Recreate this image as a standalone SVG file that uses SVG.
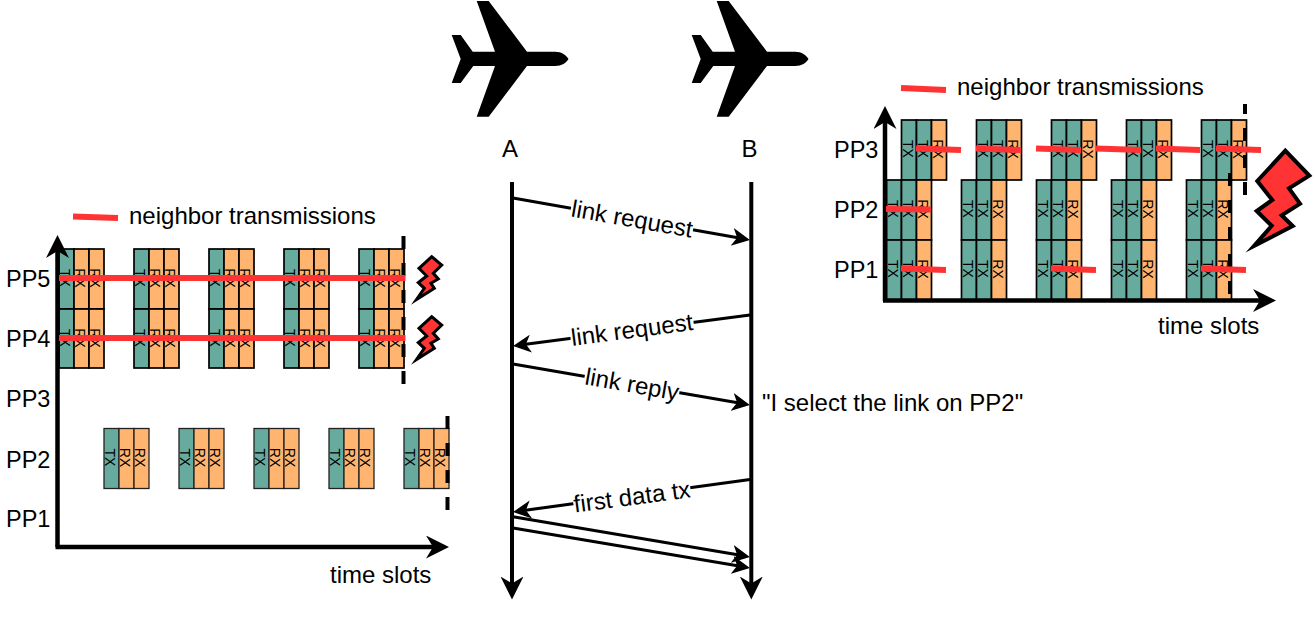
<svg xmlns="http://www.w3.org/2000/svg" width="1315" height="621" viewBox="0 0 1315 621">
<style>
text{font-family:"Liberation Sans",Arial,sans-serif;font-size:24px;fill:#000}
.pp{font-size:23.5px}
.c{font-size:14px;text-anchor:middle}
.m{text-anchor:middle}
.tx{fill:#67ab9f;stroke:#000;stroke-width:1.7}
.rx{fill:#ffb570;stroke:#000;stroke-width:1.7}
.thin rect{stroke:#222;stroke-width:1.300}
.ax{fill:none;stroke:#000;stroke-width:4.5}
.life{fill:none;stroke:#000;stroke-width:4}
.msg{fill:none;stroke:#000;stroke-width:3}
.dash{fill:none;stroke:#000;stroke-width:4;stroke-dasharray:13 14}
.red{fill:none;stroke:#ff3333;stroke-width:6}
.bolt{fill:#ff3333;stroke:#000;stroke-linejoin:miter;stroke-miterlimit:12}
</style>
<defs>
<marker id="big" markerUnits="userSpaceOnUse" markerWidth="24" markerHeight="24" refX="13" refY="11.5" orient="auto"><path d="M23 11.5L0 0L7 11.5L0 23Z" fill="#000"/></marker>
<marker id="small" markerUnits="userSpaceOnUse" markerWidth="19" markerHeight="19" refX="13" refY="9" orient="auto"><path d="M18 9L0 0L5 9L0 18Z" fill="#000"/></marker>
<path id="plane" d="M476.700 1H488.700L527 51.700H555C562 51.700 566 55 568.500 59C566 63 562 66 555 66H527L488.700 116.700H476.700L495 66H473.300L460.700 83H451.700L460.700 59L451.700 35H460.700L472.700 51.700H495Z" fill="#000"/>
</defs>

<g id="plane-a"><use href="#plane"/><text class="m" x="510" y="157">A</text></g>
<g id="plane-b"><use href="#plane" transform="translate(240 0)"/><text class="m" x="749.500" y="157">B</text></g>

<g id="left-labels">
<text class="pp" x="6" y="287">PP5</text><text class="pp" x="6" y="347">PP4</text><text class="pp" x="6" y="407">PP3</text><text class="pp" x="6" y="468">PP2</text><text class="pp" x="6" y="527">PP1</text>
<text x="330" y="583">time slots</text>
<text x="129" y="224">neighbor transmissions</text>
</g>
<g id="right-labels">
<text class="pp" x="834" y="158">PP3</text><text class="pp" x="834" y="218">PP2</text><text class="pp" x="834" y="278">PP1</text>
<text x="1158" y="334">time slots</text>
<text x="957" y="95">neighbor transmissions</text>
</g>
<g id="selection-note"><text x="762" y="411">"I select the link on PP2"</text></g>

<g id="pp5-1" transform="translate(59 249)"><rect class="tx" width="15" height="60"/><rect class="rx" x="15" width="15" height="60"/><rect class="rx" x="30" width="15" height="60"/><text class="c" transform="translate(1 29) rotate(90)">TX</text><text class="c" transform="translate(16 29) rotate(90)">RX</text><text class="c" transform="translate(31 29) rotate(90)">RX</text></g>
<g id="pp5-2" transform="translate(134 249)"><rect class="tx" width="15" height="60"/><rect class="rx" x="15" width="15" height="60"/><rect class="rx" x="30" width="15" height="60"/><text class="c" transform="translate(1 29) rotate(90)">TX</text><text class="c" transform="translate(16 29) rotate(90)">RX</text><text class="c" transform="translate(31 29) rotate(90)">RX</text></g>
<g id="pp5-3" transform="translate(209 249)"><rect class="tx" width="15" height="60"/><rect class="rx" x="15" width="15" height="60"/><rect class="rx" x="30" width="15" height="60"/><text class="c" transform="translate(1 29) rotate(90)">TX</text><text class="c" transform="translate(16 29) rotate(90)">RX</text><text class="c" transform="translate(31 29) rotate(90)">RX</text></g>
<g id="pp5-4" transform="translate(284 249)"><rect class="tx" width="15" height="60"/><rect class="rx" x="15" width="15" height="60"/><rect class="rx" x="30" width="15" height="60"/><text class="c" transform="translate(1 29) rotate(90)">TX</text><text class="c" transform="translate(16 29) rotate(90)">RX</text><text class="c" transform="translate(31 29) rotate(90)">RX</text></g>
<g id="pp5-5" transform="translate(359 249)"><rect class="tx" width="15" height="60"/><rect class="rx" x="15" width="15" height="60"/><rect class="rx" x="30" width="15" height="60"/><text class="c" transform="translate(1 29) rotate(90)">TX</text><text class="c" transform="translate(16 29) rotate(90)">RX</text><text class="c" transform="translate(31 29) rotate(90)">RX</text></g>

<g id="pp4-1" transform="translate(59 309)"><rect class="tx" width="15" height="59"/><rect class="rx" x="15" width="15" height="59"/><rect class="rx" x="30" width="15" height="59"/><text class="c" transform="translate(1 29) rotate(90)">TX</text><text class="c" transform="translate(16 29) rotate(90)">RX</text><text class="c" transform="translate(31 29) rotate(90)">RX</text></g>
<g id="pp4-2" transform="translate(134 309)"><rect class="tx" width="15" height="59"/><rect class="rx" x="15" width="15" height="59"/><rect class="rx" x="30" width="15" height="59"/><text class="c" transform="translate(1 29) rotate(90)">TX</text><text class="c" transform="translate(16 29) rotate(90)">RX</text><text class="c" transform="translate(31 29) rotate(90)">RX</text></g>
<g id="pp4-3" transform="translate(209 309)"><rect class="tx" width="15" height="59"/><rect class="rx" x="15" width="15" height="59"/><rect class="rx" x="30" width="15" height="59"/><text class="c" transform="translate(1 29) rotate(90)">TX</text><text class="c" transform="translate(16 29) rotate(90)">RX</text><text class="c" transform="translate(31 29) rotate(90)">RX</text></g>
<g id="pp4-4" transform="translate(284 309)"><rect class="tx" width="15" height="59"/><rect class="rx" x="15" width="15" height="59"/><rect class="rx" x="30" width="15" height="59"/><text class="c" transform="translate(1 29) rotate(90)">TX</text><text class="c" transform="translate(16 29) rotate(90)">RX</text><text class="c" transform="translate(31 29) rotate(90)">RX</text></g>
<g id="pp4-5" transform="translate(359 309)"><rect class="tx" width="15" height="59"/><rect class="rx" x="15" width="15" height="59"/><rect class="rx" x="30" width="15" height="59"/><text class="c" transform="translate(1 29) rotate(90)">TX</text><text class="c" transform="translate(16 29) rotate(90)">RX</text><text class="c" transform="translate(31 29) rotate(90)">RX</text></g>

<g id="pp2-1" class="thin" transform="translate(104 428.500)"><rect class="tx" width="15" height="60"/><rect class="rx" x="15" width="15" height="60"/><rect class="rx" x="30" width="15" height="60"/><text class="c" transform="translate(1 29) rotate(90)">TX</text><text class="c" transform="translate(16 29) rotate(90)">RX</text><text class="c" transform="translate(31 29) rotate(90)">RX</text></g>
<g id="pp2-2" class="thin" transform="translate(179 428.500)"><rect class="tx" width="15" height="60"/><rect class="rx" x="15" width="15" height="60"/><rect class="rx" x="30" width="15" height="60"/><text class="c" transform="translate(1 29) rotate(90)">TX</text><text class="c" transform="translate(16 29) rotate(90)">RX</text><text class="c" transform="translate(31 29) rotate(90)">RX</text></g>
<g id="pp2-3" class="thin" transform="translate(254 428.500)"><rect class="tx" width="15" height="60"/><rect class="rx" x="15" width="15" height="60"/><rect class="rx" x="30" width="15" height="60"/><text class="c" transform="translate(1 29) rotate(90)">TX</text><text class="c" transform="translate(16 29) rotate(90)">RX</text><text class="c" transform="translate(31 29) rotate(90)">RX</text></g>
<g id="pp2-4" class="thin" transform="translate(329 428.500)"><rect class="tx" width="15" height="60"/><rect class="rx" x="15" width="15" height="60"/><rect class="rx" x="30" width="15" height="60"/><text class="c" transform="translate(1 29) rotate(90)">TX</text><text class="c" transform="translate(16 29) rotate(90)">RX</text><text class="c" transform="translate(31 29) rotate(90)">RX</text></g>
<g id="pp2-5" class="thin" transform="translate(404 428.500)"><rect class="tx" width="15" height="60"/><rect class="rx" x="15" width="15" height="60"/><rect class="rx" x="30" width="15" height="60"/><text class="c" transform="translate(1 29) rotate(90)">TX</text><text class="c" transform="translate(16 29) rotate(90)">RX</text><text class="c" transform="translate(31 29) rotate(90)">RX</text></g>

<g id="r-pp3-1" transform="translate(901.500 120)"><rect class="tx" width="15" height="60"/><rect class="tx" x="15" width="15" height="60"/><rect class="rx" x="30" width="15" height="60"/><text class="c" transform="translate(1 29) rotate(90)">TX</text><text class="c" transform="translate(16 29) rotate(90)">TX</text><text class="c" transform="translate(31 29) rotate(90)">RX</text></g>
<g id="r-pp3-2" transform="translate(976.500 120)"><rect class="tx" width="15" height="60"/><rect class="tx" x="15" width="15" height="60"/><rect class="rx" x="30" width="15" height="60"/><text class="c" transform="translate(1 29) rotate(90)">TX</text><text class="c" transform="translate(16 29) rotate(90)">TX</text><text class="c" transform="translate(31 29) rotate(90)">RX</text></g>
<g id="r-pp3-3" transform="translate(1051.500 120)"><rect class="tx" width="15" height="60"/><rect class="tx" x="15" width="15" height="60"/><rect class="rx" x="30" width="15" height="60"/><text class="c" transform="translate(1 29) rotate(90)">TX</text><text class="c" transform="translate(16 29) rotate(90)">TX</text><text class="c" transform="translate(31 29) rotate(90)">RX</text></g>
<g id="r-pp3-4" transform="translate(1126.500 120)"><rect class="tx" width="15" height="60"/><rect class="tx" x="15" width="15" height="60"/><rect class="rx" x="30" width="15" height="60"/><text class="c" transform="translate(1 29) rotate(90)">TX</text><text class="c" transform="translate(16 29) rotate(90)">TX</text><text class="c" transform="translate(31 29) rotate(90)">RX</text></g>
<g id="r-pp3-5" transform="translate(1201.500 120)"><rect class="tx" width="15" height="60"/><rect class="tx" x="15" width="15" height="60"/><rect class="rx" x="30" width="15" height="60"/><text class="c" transform="translate(1 29) rotate(90)">TX</text><text class="c" transform="translate(16 29) rotate(90)">TX</text><text class="c" transform="translate(31 29) rotate(90)">RX</text></g>

<g id="r-pp2-1" transform="translate(886.500 180)"><rect class="tx" width="15" height="60"/><rect class="tx" x="15" width="15" height="60"/><rect class="rx" x="30" width="15" height="60"/><text class="c" transform="translate(1 29) rotate(90)">TX</text><text class="c" transform="translate(16 29) rotate(90)">TX</text><text class="c" transform="translate(31 29) rotate(90)">RX</text></g>
<g id="r-pp2-2" transform="translate(961.500 180)"><rect class="tx" width="15" height="60"/><rect class="tx" x="15" width="15" height="60"/><rect class="rx" x="30" width="15" height="60"/><text class="c" transform="translate(1 29) rotate(90)">TX</text><text class="c" transform="translate(16 29) rotate(90)">TX</text><text class="c" transform="translate(31 29) rotate(90)">RX</text></g>
<g id="r-pp2-3" transform="translate(1036.500 180)"><rect class="tx" width="15" height="60"/><rect class="tx" x="15" width="15" height="60"/><rect class="rx" x="30" width="15" height="60"/><text class="c" transform="translate(1 29) rotate(90)">TX</text><text class="c" transform="translate(16 29) rotate(90)">TX</text><text class="c" transform="translate(31 29) rotate(90)">RX</text></g>
<g id="r-pp2-4" transform="translate(1111.500 180)"><rect class="tx" width="15" height="60"/><rect class="tx" x="15" width="15" height="60"/><rect class="rx" x="30" width="15" height="60"/><text class="c" transform="translate(1 29) rotate(90)">TX</text><text class="c" transform="translate(16 29) rotate(90)">TX</text><text class="c" transform="translate(31 29) rotate(90)">RX</text></g>
<g id="r-pp2-5" transform="translate(1186.500 180)"><rect class="tx" width="15" height="60"/><rect class="tx" x="15" width="15" height="60"/><rect class="rx" x="30" width="15" height="60"/><text class="c" transform="translate(1 29) rotate(90)">TX</text><text class="c" transform="translate(16 29) rotate(90)">TX</text><text class="c" transform="translate(31 29) rotate(90)">RX</text></g>

<g id="r-pp1-1" transform="translate(886.500 240)"><rect class="tx" width="15" height="60"/><rect class="tx" x="15" width="15" height="60"/><rect class="rx" x="30" width="15" height="60"/><text class="c" transform="translate(1 29) rotate(90)">TX</text><text class="c" transform="translate(16 29) rotate(90)">TX</text><text class="c" transform="translate(31 29) rotate(90)">RX</text></g>
<g id="r-pp1-2" transform="translate(961.500 240)"><rect class="tx" width="15" height="60"/><rect class="tx" x="15" width="15" height="60"/><rect class="rx" x="30" width="15" height="60"/><text class="c" transform="translate(1 29) rotate(90)">TX</text><text class="c" transform="translate(16 29) rotate(90)">TX</text><text class="c" transform="translate(31 29) rotate(90)">RX</text></g>
<g id="r-pp1-3" transform="translate(1036.500 240)"><rect class="tx" width="15" height="60"/><rect class="tx" x="15" width="15" height="60"/><rect class="rx" x="30" width="15" height="60"/><text class="c" transform="translate(1 29) rotate(90)">TX</text><text class="c" transform="translate(16 29) rotate(90)">TX</text><text class="c" transform="translate(31 29) rotate(90)">RX</text></g>
<g id="r-pp1-4" transform="translate(1111.500 240)"><rect class="tx" width="15" height="60"/><rect class="tx" x="15" width="15" height="60"/><rect class="rx" x="30" width="15" height="60"/><text class="c" transform="translate(1 29) rotate(90)">TX</text><text class="c" transform="translate(16 29) rotate(90)">TX</text><text class="c" transform="translate(31 29) rotate(90)">RX</text></g>
<g id="r-pp1-5" transform="translate(1186.500 240)"><rect class="tx" width="15" height="60"/><rect class="tx" x="15" width="15" height="60"/><rect class="rx" x="30" width="15" height="60"/><text class="c" transform="translate(1 29) rotate(90)">TX</text><text class="c" transform="translate(16 29) rotate(90)">TX</text><text class="c" transform="translate(31 29) rotate(90)">RX</text></g>

<g id="connectors">
<path class="ax" d="M57.500 547V245" marker-end="url(#big)"/>
<path class="ax" d="M55.500 547H439" marker-end="url(#big)"/>
<path class="ax" d="M885 301V116" marker-end="url(#big)"/>
<path class="ax" d="M883 300.500H1266" marker-end="url(#big)"/>
<path class="life" d="M512 182V589.500" marker-end="url(#big)"/>
<path class="life" d="M751.300 182V589.500" marker-end="url(#big)"/>
<path class="msg" d="M513 198L745 239.100" marker-end="url(#small)"/>
<path class="msg" d="M750 315L518 345.300" marker-end="url(#small)"/>
<path class="msg" d="M513 364L745 404.100" marker-end="url(#small)"/>
<path class="msg" d="M750 479.500L518 511.300" marker-end="url(#small)"/>
<path class="msg" d="M513 516.700L745 556.100" marker-end="url(#small)"/>
<path class="msg" d="M513 528L745 567.100" marker-end="url(#small)"/>
<g transform="translate(632 219) rotate(10)"><rect x="-62" y="-12" width="124" height="23" fill="#fff"/><text class="m" y="8">link request</text></g>
<g transform="translate(632 330) rotate(-7.500)"><rect x="-62" y="-12" width="124" height="23" fill="#fff"/><text class="m" y="8">link request</text></g>
<g transform="translate(632 384.500) rotate(10)"><rect x="-48" y="-12" width="96" height="23" fill="#fff"/><text class="m" y="8">link reply</text></g>
<g transform="translate(632 497) rotate(-7.500)"><rect x="-59" y="-12" width="118" height="23" fill="#fff"/><text class="m" y="8">first data tx</text></g>
</g>

<g id="deadlines">
<path class="dash" d="M403.500 236V385"/>
<path class="dash" d="M447.500 416V510"/>
<path class="dash" style="stroke-dashoffset:3" d="M1245 104V195"/>
<path class="dash" d="M1230 173V300"/>
</g>

<g id="neighbor-transmissions">
<path class="red" d="M73 216.500L118 218"/>
<path class="red" d="M59 278H405.500"/>
<path class="red" d="M59 338H405.500"/>
<path class="red" d="M901 88L946 90"/>
<path class="red" d="M916 148.500L961 150"/>
<path class="red" d="M976 148.500L1021 150"/>
<path class="red" d="M1036 148.500L1081 150"/>
<path class="red" d="M1096 148.500L1141 150"/>
<path class="red" d="M1156 148.500L1200 150"/>
<path class="red" d="M1216 148.500L1261 150"/>
<path class="red" d="M886 209L931 209.500"/>
<path class="red" d="M901 268.500L946 270"/>
<path class="red" d="M1051 268.500L1096 270"/>
<path class="red" d="M1201 268.500L1246 270"/>
</g>

<g id="bolt-large"><path class="bolt" stroke-width="4" d="M1285.300 150.700L1309.300 175.700L1289 188.300L1300 203.700L1281.700 215.300L1292.700 226L1254 246L1271.700 225.700L1256.700 211L1272.300 200L1257.300 181Z"/></g>
<g id="bolt-pp5"><path class="bolt" stroke-width="3" d="M431.700 256.700L441.700 265L433.300 273.300L438.300 279L431 283.300L434.300 288.300L416.500 299.500L424.300 288.300L418.300 282.700L426.700 276L419 268.300Z"/></g>
<g id="bolt-pp4"><path class="bolt" stroke-width="3" d="M431.700 316.700L441.700 325L433.300 333.300L438.300 339L431 343.300L434.300 348.300L416.500 359.500L424.300 348.300L418.300 342.700L426.700 336L419 328.300Z"/></g>
</svg>
